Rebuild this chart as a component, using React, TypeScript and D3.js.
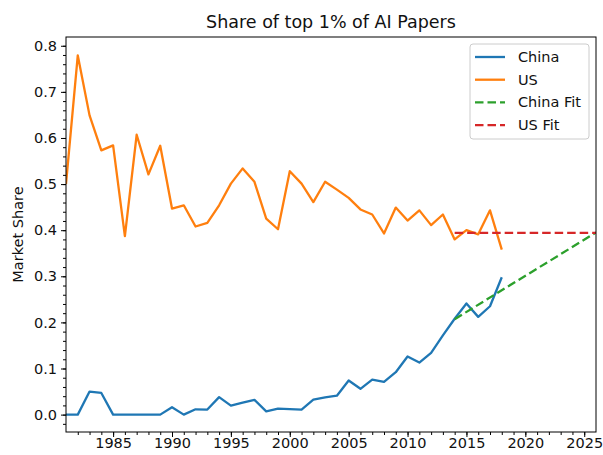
import { useEffect, useRef } from 'react'
import * as d3 from 'd3'

const WIDTH = 603
const HEIGHT = 455
const MARGIN = { top: 37, right: 7, bottom: 23, left: 66 }

const years = [
  1981, 1982, 1983, 1984, 1985, 1986, 1987, 1988, 1989, 1990, 1991, 1992, 1993, 1994, 1995, 1996, 1997, 1998, 1999,
  2000, 2001, 2002, 2003, 2004, 2005, 2006, 2007, 2008, 2009, 2010, 2011, 2012, 2013, 2014, 2015, 2016, 2017, 2018,
]
const china = [
  0, 0, 0.05, 0.047, 0, 0, 0, 0, 0, 0.016, 0, 0.0115, 0.011, 0.038, 0.0195, 0.026, 0.032, 0.007, 0.013,
  0.012, 0.011, 0.0325, 0.0375, 0.041, 0.074, 0.056, 0.076, 0.071, 0.092, 0.126, 0.113, 0.134, 0.172, 0.208, 0.241,
  0.212, 0.235, 0.298,
]
const us = [
  0.5, 0.779, 0.649, 0.573, 0.584, 0.387, 0.607, 0.521, 0.583, 0.447, 0.454, 0.408, 0.416, 0.454, 0.501, 0.534,
  0.505, 0.425, 0.402, 0.528, 0.501, 0.461, 0.505, 0.488, 0.47, 0.445, 0.434, 0.393, 0.449, 0.421, 0.443, 0.411,
  0.434, 0.38, 0.4, 0.391, 0.443, 0.358,
]
const fitYears = [2014, 2026]
const chinaFit = [0.207, 0.395]
const usFit = [0.394, 0.394]

const xTicks = [1985, 1990, 1995, 2000, 2005, 2010, 2015, 2020, 2025]
const yTicks = [0, 0.1, 0.2, 0.3, 0.4, 0.5, 0.6, 0.7, 0.8]

const series = [
  { name: 'China', xs: years, ys: china, color: '#1f77b4', dash: null },
  { name: 'US', xs: years, ys: us, color: '#ff7f0e', dash: null },
  { name: 'China Fit', xs: fitYears, ys: chinaFit, color: '#2ca02c', dash: '8.5,4' },
  { name: 'US Fit', xs: fitYears, ys: usFit, color: '#d62728', dash: '8.5,4' },
]

const FONT = 'DejaVu Sans, sans-serif'

export default function App() {
  const ref = useRef<SVGSVGElement>(null)

  useEffect(() => {
    const svg = d3.select(ref.current)
    svg.selectAll('*').remove()

    const w = WIDTH - MARGIN.left - MARGIN.right
    const h = HEIGHT - MARGIN.top - MARGIN.bottom

    const x = d3.scaleLinear().domain([1981, 2026]).range([0, w])
    const y = d3.scaleLinear().domain([-0.0377, 0.819]).range([h, 0])

    const g = svg.append('g').attr('transform', `translate(${MARGIN.left},${MARGIN.top})`)

    g.append('defs')
      .append('clipPath')
      .attr('id', 'plot-clip')
      .append('rect')
      .attr('width', w)
      .attr('height', h)

    // minor ticks
    const xAxisMinor = d3.axisBottom(x).tickValues(d3.range(1982, 2026)).tickSize(3).tickFormat(() => '')
    const yAxisMinor = d3.axisLeft(y).tickValues(d3.range(-0.02, 0.81, 0.02)).tickSize(3).tickFormat(() => '')
    g.append('g').attr('transform', `translate(0,${h})`).call(xAxisMinor).call((a) => a.select('.domain').remove())
    g.append('g').call(yAxisMinor).call((a) => a.select('.domain').remove())

    const xAxis = d3.axisBottom(x).tickValues(xTicks).tickSize(5).tickPadding(1).tickFormat(d3.format('d'))
    const yAxis = d3.axisLeft(y).tickValues(yTicks).tickSize(5).tickPadding(4).tickFormat(d3.format('.1f'))

    g.append('g')
      .attr('transform', `translate(0,${h})`)
      .call(xAxis)
      .call((a) => a.select('.domain').remove())
      .selectAll('text')
      .attr('font-size', 14.5)
      .attr('font-family', FONT)
      .attr('fill', '#111')
    g.append('g')
      .call(yAxis)
      .call((a) => a.select('.domain').remove())
      .selectAll('text')
      .attr('font-size', 14.5)
      .attr('font-family', FONT)
      .attr('fill', '#111')

    const plot = g.append('g').attr('clip-path', 'url(#plot-clip)')
    series.forEach((s) => {
      const pts = s.xs.map((yr, i) => [yr, s.ys[i]] as [number, number])
      const ln = d3
        .line<[number, number]>()
        .x((d) => x(d[0]))
        .y((d) => y(d[1]))
      plot
        .append('path')
        .attr('d', ln(pts) ?? '')
        .attr('fill', 'none')
        .attr('stroke', s.color)
        .attr('stroke-width', 2.3)
        .attr('stroke-linejoin', 'round')
        .attr('stroke-dasharray', s.dash)
    })

    g.append('rect').attr('width', w).attr('height', h).attr('fill', 'none').attr('stroke', '#000').attr('stroke-width', 1)

    // title and y label
    svg
      .append('text')
      .attr('x', MARGIN.left + w / 2)
      .attr('y', 28)
      .attr('text-anchor', 'middle')
      .attr('font-size', 17.5)
      .attr('font-family', FONT)
      .attr('fill', '#111')
      .text('Share of top 1% of AI Papers')
    svg
      .append('text')
      .attr('transform', `translate(23,${MARGIN.top + h / 2}) rotate(-90)`)
      .attr('text-anchor', 'middle')
      .attr('font-size', 14.5)
      .attr('font-family', FONT)
      .attr('fill', '#111')
      .text('Market Share')

    // legend
    const lg = svg.append('g').attr('transform', 'translate(470,44)')
    lg.append('rect')
      .attr('width', 119)
      .attr('height', 95)
      .attr('rx', 3)
      .attr('fill', '#fff')
      .attr('fill-opacity', 0.8)
      .attr('stroke', '#ccc')
    series.forEach((s, i) => {
      const cy = 13 + i * 22.7
      lg.append('line')
        .attr('x1', 5)
        .attr('x2', 35)
        .attr('y1', cy)
        .attr('y2', cy)
        .attr('stroke', s.color)
        .attr('stroke-width', 2.3)
        .attr('stroke-dasharray', s.dash)
      lg.append('text')
        .attr('x', 48)
        .attr('y', cy + 5)
        .attr('font-size', 14.5)
        .attr('font-family', FONT)
        .attr('fill', '#111')
        .text(s.name)
    })
  }, [])

  return <svg ref={ref} width={WIDTH} height={HEIGHT} style={{ position: 'absolute', left: 0, top: 0, background: '#fff' }} />
}
